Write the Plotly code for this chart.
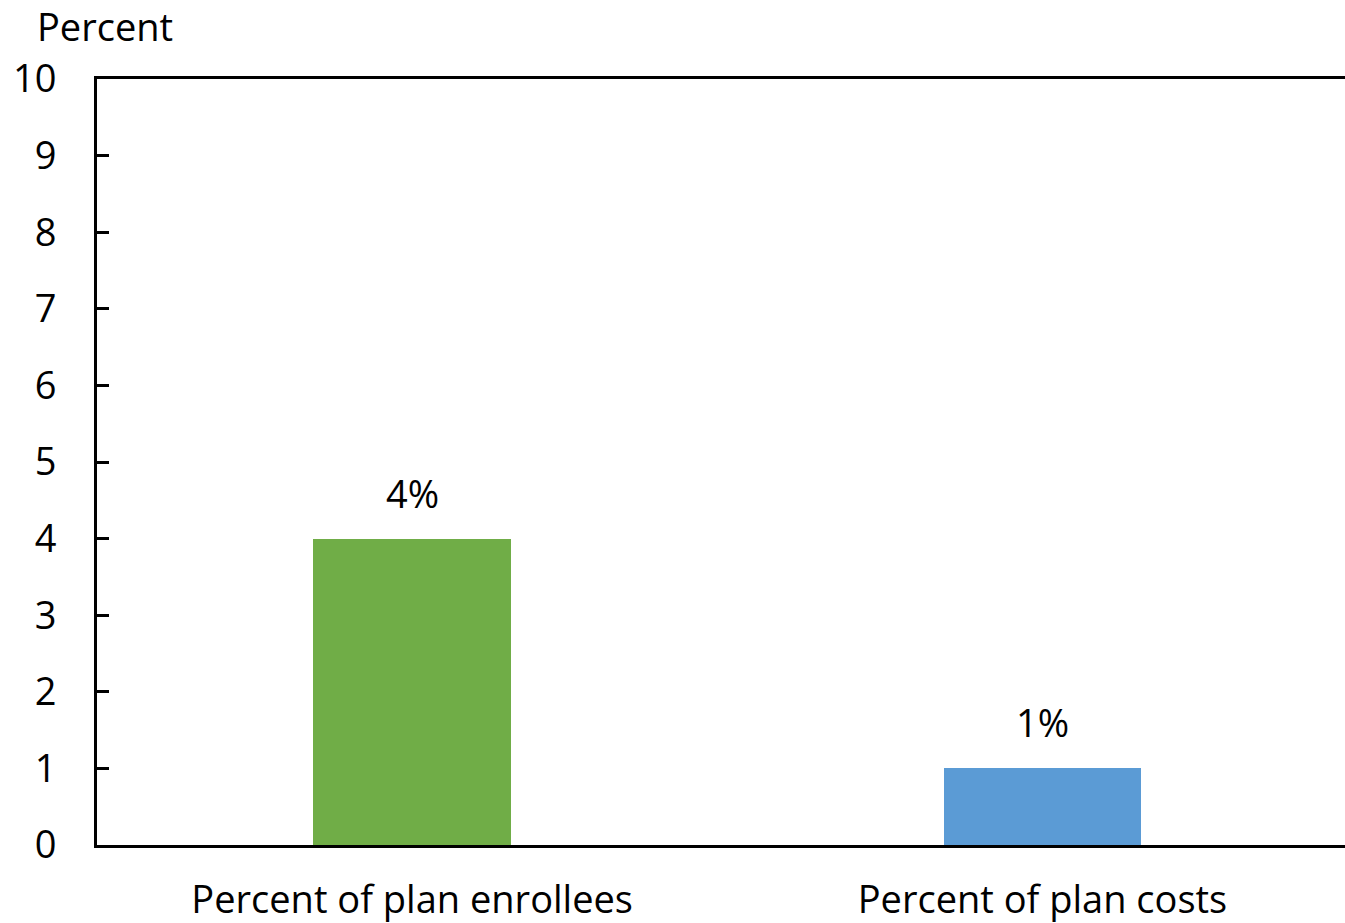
import plotly.graph_objects as go

categories = ["Percent of plan enrollees", "Percent of plan costs"]
values = [4, 1]
labels = ["4%", "1%"]
colors = ["#70AD47", "#5B9BD5"]
y_ticks = list(range(0, 11))

FONT = "Open Sans"
FS = 38
fig = go.Figure()
fig.add_trace(go.Bar(
    x=categories, y=values, marker=dict(color=colors, line=dict(width=0)),
    width=0.314, showlegend=False, hoverinfo="skip",
))
for c, v, t in zip(categories, values, labels):
    fig.add_annotation(x=c, y=v, text=t, showarrow=False, yshift=46,
                       font=dict(family=FONT, size=FS, color="black"))
fig.add_annotation(xref="paper", yref="paper", x=-0.046, y=1.0, yshift=53, xshift=-4,
                   xanchor="left", yanchor="middle", text="Percent", showarrow=False,
                   borderpad=0,
                   font=dict(family=FONT, size=FS, color="black"))
fig.update_layout(
    width=1345, height=923,
    margin=dict(l=97, r=0, t=79, b=78, autoexpand=False),
    plot_bgcolor="white", paper_bgcolor="white",
    font=dict(family=FONT, size=FS, color="black"),
    bargap=0,
)
fig.update_xaxes(type="category", range=[-0.5, 1.48], showline=True, linecolor="black",
                 linewidth=3, mirror=True, ticks="", showgrid=False, automargin=False,
                 ticklabelstandoff=19, tickfont=dict(size=FS))
fig.update_yaxes(range=[0, 10], tickvals=y_ticks, showline=True, linecolor="black",
                 linewidth=3, ticks="inside", ticklen=12, tickwidth=3, tickcolor="black",
                 showgrid=False, zeroline=False, ticklabelstandoff=30, automargin=False,
                 tickfont=dict(size=FS))
fig.write_html("out.html")
